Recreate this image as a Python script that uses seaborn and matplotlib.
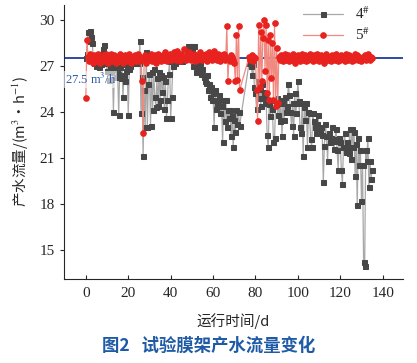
import numpy as np
import pandas as pd
import matplotlib
matplotlib.use("Agg")
import matplotlib.pyplot as plt
import seaborn as sns

# sampling days (every half day)
days = np.arange(0, 135.5, 0.5)

# membrane rack 4# flow, m3/h
flow_4 = [
    27.5, 27.8, 29.2, 28.6, 29.3, 28.9, 28.5, 27.6, 27.2, 27.5,
    27.0, 27.3, 26.9, 27.4, 27.1, 27.8, 28.1, 28.4, 27.5, 27.2,
    26.7, 27.3, 26.1, 27.0, 26.6, 27.2, 24.0, 27.0, 26.3, 26.8,
    26.5, 23.8, 26.9, 26.2, 27.1, 25.0, 26.4, 26.0, 26.7, 27.0,
    23.8, 26.8, 27.0, 27.3, 27.5, 27.2, 27.4, 27.6, 27.3, 27.5,
    27.2, 28.6, 23.9, 26.3, 21.1, 25.4, 23.0, 27.9, 23.0, 25.8,
    26.5, 23.1, 26.6, 24.1, 26.8, 25.0, 24.3, 26.2, 24.4, 26.6,
    24.8, 26.4, 25.3, 26.3, 24.2, 26.0, 23.6, 24.8, 26.5, 27.3,
    23.6, 25.0, 27.0, 27.4, 27.2, 27.6, 27.3, 27.5, 27.4, 27.6,
    27.5, 27.3, 27.7, 27.9, 28.0, 27.6, 28.3, 27.9, 28.0, 28.3,
    28.1, 27.0, 28.3, 27.6, 26.6, 27.5, 27.0, 26.8, 27.2, 26.5,
    26.8, 26.3, 26.0, 25.9, 26.4, 25.4, 25.8, 25.0, 25.6, 24.8,
    25.2, 23.0, 25.4, 24.2, 24.6, 24.8, 25.1, 23.9, 24.4, 22.0,
    24.8, 23.4, 24.8, 23.0, 24.1, 23.6, 24.1, 22.4, 23.7, 21.7,
    23.5, 22.7, 24.1, 23.2, 24.0, 23.1, np.nan, np.nan, np.nan, np.nan,
    np.nan, np.nan, np.nan, np.nan, 27.2, 27.6, 27.0, 26.4, 27.1, 25.6,
    25.2, 24.2, 26.0, 24.9, 25.5, 24.4, 25.8, 24.9, 25.3, 24.6,
    25.0, 22.5, 21.7, 24.5, 23.7, 24.8, 24.2, 22.0, 22.3, 24.5,
    24.9, 23.8, 24.8, 23.4, 24.6, 22.4, 24.8, 23.5, 25.0, 24.0,
    24.4, 25.8, 25.1, 24.0, 23.1, 24.6, 22.4, 25.2, 23.9, 24.6,
    26.0, 24.7, 23.0, 22.6, 24.6, 21.1, 24.3, 23.5, 24.6, 21.7,
    24.0, 23.9, 22.2, 21.7, 23.9, 23.4, 23.0, 22.6, 23.2, 23.8,
    22.6, 22.8, 23.0, 22.5, 19.4, 21.8, 23.2, 22.4, 20.8, 22.6,
    22.0, 22.3, 23.0, 22.2, 21.6, 22.1, 22.9, 21.5, 20.2, 22.3,
    22.0, 20.2, 19.3, 21.7, 22.6, 21.4, 22.0, 21.7, 21.3, 22.9,
    20.9, 22.9, 21.7, 22.7, 19.8, 21.9, 17.9, 22.3, 20.5, 21.5,
    18.2, 20.5, 14.2, 13.9, 21.5, 20.8, 22.3, 19.1, 20.8, 19.6,
    20.2,
]

# membrane rack 5# flow, m3/h
flow_5 = [
    24.9, 28.7, 27.6, 27.3, 27.8, 27.4, 27.6, 27.2, 27.7, 27.5,
    27.3, 27.8, 27.5, 27.2, 27.6, 27.4, 27.7, 27.3, 27.5, 27.8,
    27.4, 27.2, 27.6, 27.5, 27.8, 27.3, 27.5, 27.7, 27.2, 27.6,
    27.5, 27.3, 27.8, 27.4, 27.6, 27.2, 27.5, 27.7, 27.3, 27.6,
    27.4, 27.8, 27.5, 27.2, 27.6, 27.4, 27.7, 27.3, 27.5, 27.8,
    27.3, 27.6, 27.4, 26.0, 22.6, 27.5, 27.7, 27.2, 27.6, 27.4,
    27.5, 27.8, 27.3, 27.6, 27.4, 27.7, 27.2, 27.5, 27.8, 27.4,
    27.6, 27.3, 27.5, 27.7, 27.4, 27.9, 27.5, 27.3, 27.6, 27.8,
    27.4, 27.7, 27.5, 27.9, 27.6, 27.4, 28.0, 27.5, 27.7, 27.3,
    27.8, 27.5, 27.6, 28.1, 27.4, 27.7, 27.5, 27.9, 27.6, 27.4,
    27.7, 27.5, 27.8, 27.3, 27.6, 27.4, 27.7, 27.5, 27.9, 27.6,
    27.4, 27.7, 27.5, 27.8, 27.3, 27.6, 27.9, 27.5, 27.7, 27.4,
    27.6, 28.0, 27.5, 27.7, 27.4, 27.8, 27.6, 27.3, 27.7, 27.5,
    27.8, 27.4, 27.6, 29.6, 26.0, 27.5, 27.3, 27.7, 27.6, 27.4,
    27.2, 26.0, 29.0, 26.1, 29.6, 25.4, np.nan, np.nan, np.nan, np.nan,
    np.nan, np.nan, np.nan, np.nan, 27.6, 27.4, 27.5, 27.7, 27.3, 27.6,
    27.5, 25.4, 23.4, 29.7, 25.6, 29.2, 26.0, 28.8, 30.0, 26.7,
    29.7, 25.2, 28.7, 24.8, 29.0, 26.2, 28.5, 24.8, 29.8, 24.4,
    28.2, 24.6, 27.6, 27.4, 27.7, 27.5, 27.3, 27.6, 27.8, 27.4,
    27.5, 27.7, 27.3, 27.6, 27.4, 27.8, 27.5, 27.2, 27.6, 27.4,
    27.7, 27.5, 27.3, 27.6, 27.8, 27.4, 27.5, 27.7, 27.3, 27.6,
    27.4, 27.8, 27.5, 27.6, 27.3, 27.7, 27.4, 27.5, 27.8, 27.6,
    27.3, 27.5, 27.7, 27.4, 27.6, 27.2, 27.5, 27.8, 27.4, 27.6,
    27.5, 27.3, 27.7, 27.5, 27.6, 27.4, 27.8, 27.5, 27.3, 27.6,
    27.4, 27.7, 27.5, 27.6, 27.3, 27.8, 27.5, 27.4, 27.7, 27.6,
    27.5, 27.3, 27.6, 27.4, 27.8, 27.5, 27.7, 27.4, 27.6, 27.5,
    27.3, 27.6, 27.5, 27.7, 27.4, 27.6, 27.8, 27.5, 27.4, 27.6,
    27.5,
]

design_flow = 27.5
y_ticks = [15, 18, 21, 24, 27, 30]
x_ticks = [0, 20, 40, 60, 80, 100, 120, 140]

df = pd.DataFrame({"day": days, "f4": flow_4, "f5": flow_5})

sns.set_style("ticks")
plt.rcParams["font.family"] = ["Liberation Serif", "Noto Sans CJK SC", "DejaVu Sans"]
plt.rcParams["mathtext.fontset"] = "stix"
cjk = ["Noto Sans CJK SC", "DejaVu Sans"]

fig = plt.figure(figsize=(4.17, 3.63), dpi=100)
ax = fig.add_axes([0.153, 0.231, 0.813, 0.756])

ax.axhline(design_flow, color="#1f3c98", lw=1.3, zorder=1)

sns.lineplot(data=df, x="day", y="f4", ax=ax, color="#a8a8a8", lw=0.9,
             marker="s", markersize=3.6, markerfacecolor="#474747",
             markeredgecolor="#474747", label="4$^{\\#}$", zorder=2)
sns.lineplot(data=df, x="day", y="f5", ax=ax, color="#f08a80", lw=0.9,
             marker="o", markersize=4.0, markerfacecolor="#e8221e",
             markeredgecolor="#e8221e", label="5$^{\\#}$", zorder=3)

ax.text(-10, 26.1, "27.5 m$^3$/h", color="#2a5aa8", fontsize=9, va="center",
        ha="left", zorder=5,
        bbox=dict(facecolor="white", edgecolor="none", alpha=0.6, pad=0.5))

ax.set_xlim(-10.4, 149.5)
ax.set_ylim(13.07, 31.0)
ax.set_xticks(x_ticks)
ax.set_yticks(y_ticks)
ax.tick_params(axis="x", direction="in", length=3, labelsize=11, pad=6)
ax.tick_params(axis="y", direction="out", length=3, labelsize=11)
sns.despine(ax=ax)

ax.set_xlabel("运行时间/d", fontsize=10.5, family=cjk, labelpad=9)
ax.set_ylabel("产水流量/(m$^3$·h$^{-1}$)", fontsize=10.5, family=cjk, labelpad=6)

ax.legend(loc="upper right", bbox_to_anchor=(0.93, 1.03), frameon=False,
          fontsize=11, handlelength=2.6, borderaxespad=0.2, labelspacing=0.3)

fig.text(0.5, 0.035, "图2   试验膜架产水流量变化", color="#1f5aa6", fontsize=12.5,
         fontweight="bold", ha="center", family=cjk)

fig.savefig("out.png", dpi=100)
